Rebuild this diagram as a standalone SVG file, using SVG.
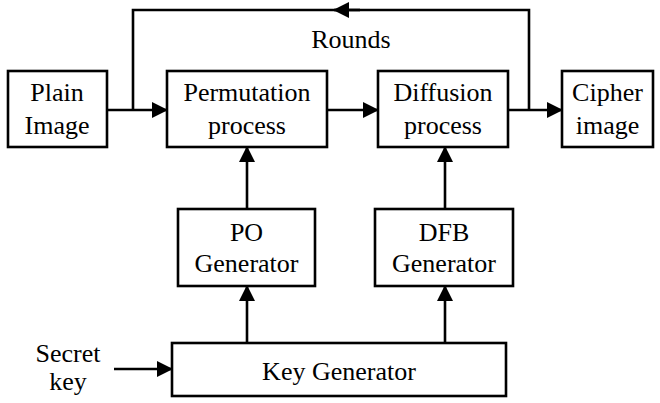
<svg xmlns="http://www.w3.org/2000/svg" width="660" height="403" viewBox="0 0 660 403">
<style>
.box{fill:#fff;stroke:#000;stroke-width:2.6}
.ln{fill:none;stroke:#000;stroke-width:2.6}
.t{font-family:'Liberation Serif','Times New Roman',Times,serif;font-size:26px;fill:#000;text-anchor:middle}
</style>
<defs>
<marker id="ah" markerUnits="userSpaceOnUse" markerWidth="16" markerHeight="16" viewBox="0 0 16 16" refX="15" refY="8" orient="auto">
<path d="M0,0 L16,8 L0,16 z" fill="#000"/>
</marker>
</defs>
<g id="connectors">
<line class="ln" x1="107" y1="110" x2="167" y2="110" marker-end="url(#ah)"/>
<line class="ln" x1="327" y1="110" x2="378" y2="110" marker-end="url(#ah)"/>
<line class="ln" x1="508" y1="110" x2="562" y2="110" marker-end="url(#ah)"/>
<polyline class="ln" points="529,110 529,10 133,10 133,110"/>
<line class="ln" x1="360" y1="10" x2="334" y2="10" marker-end="url(#ah)"/>
<line class="ln" x1="247" y1="209" x2="247" y2="147" marker-end="url(#ah)"/>
<line class="ln" x1="445" y1="209" x2="445" y2="147" marker-end="url(#ah)"/>
<line class="ln" x1="247" y1="343" x2="247" y2="286" marker-end="url(#ah)"/>
<line class="ln" x1="445" y1="343" x2="445" y2="286" marker-end="url(#ah)"/>
<line class="ln" x1="114" y1="369" x2="172" y2="369" marker-end="url(#ah)"/>
</g>
<g font-family="Liberation Serif, serif" font-size="26">
<text class="t" x="351" y="48">Rounds</text>
<g id="plain">
<rect class="box" x="8" y="71" width="99" height="76"/>
<text class="t" x="57" y="101">Plain</text>
<text class="t" x="57" y="134">Image</text>
</g>
<g id="perm">
<rect class="box" x="167" y="71" width="160" height="76"/>
<text class="t" x="247" y="101">Permutation</text>
<text class="t" x="247" y="134">process</text>
</g>
<g id="diff">
<rect class="box" x="378" y="71" width="130" height="76"/>
<text class="t" x="443" y="101">Diffusion</text>
<text class="t" x="443" y="134">process</text>
</g>
<g id="cipher">
<rect class="box" x="562" y="71" width="91" height="76"/>
<text class="t" x="607.5" y="101">Cipher</text>
<text class="t" x="607.5" y="134">image</text>
</g>
<g id="po">
<rect class="box" x="178" y="209" width="137" height="77"/>
<text class="t" x="246.5" y="241">PO</text>
<text class="t" x="246.5" y="272">Generator</text>
</g>
<g id="dfb">
<rect class="box" x="375" y="209" width="138" height="77"/>
<text class="t" x="444" y="241">DFB</text>
<text class="t" x="444" y="272">Generator</text>
</g>
<g id="keygen">
<rect class="box" x="172" y="343" width="334" height="53"/>
<text class="t" x="339" y="380">Key Generator</text>
</g>
<g id="secret">
<text class="t" x="68" y="362">Secret</text>
<text class="t" x="68" y="390">key</text>
</g>
</g>
</svg>
